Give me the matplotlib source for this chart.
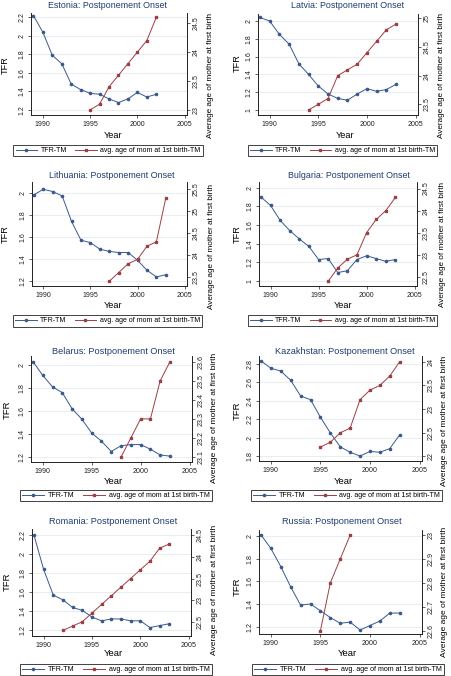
import matplotlib
matplotlib.use("Agg")
import matplotlib.pyplot as plt
from matplotlib.lines import Line2D
from matplotlib.ticker import FuncFormatter

plt.rcParams['font.family'] = ['Liberation Sans', 'DejaVu Sans']

# ---------------- data ----------------
countries = ["Estonia", "Latvia", "Lithuania", "Bulgaria",
             "Belarus", "Kazakhstan", "Romania", "Russia"]

est_tfr_years = [1989, 1990, 1991, 1992, 1993, 1994, 1995, 1996, 1997, 1998, 1999, 2000, 2001, 2002]
est_tfr = [2.22, 2.04, 1.79, 1.70, 1.48, 1.42, 1.38, 1.37, 1.32, 1.28, 1.32, 1.39, 1.34, 1.37]
est_age_years = [1995, 1996, 1997, 1998, 1999, 2000, 2001, 2002]
est_age = [23.0, 23.1, 23.4, 23.6, 23.8, 24.0, 24.2, 24.6]

lva_tfr_years = [1989, 1990, 1991, 1992, 1993, 1994, 1995, 1996, 1997, 1998, 1999, 2000, 2001, 2002, 2003]
lva_tfr = [2.04, 2.00, 1.85, 1.74, 1.52, 1.40, 1.27, 1.18, 1.13, 1.11, 1.18, 1.24, 1.21, 1.23, 1.29]
lva_age_years = [1994, 1995, 1996, 1997, 1998, 1999, 2000, 2001, 2002, 2003]
lva_age = [23.4, 23.5, 23.6, 24.0, 24.1, 24.2, 24.4, 24.6, 24.8, 24.9]

ltu_tfr_years = [1989, 1990, 1991, 1992, 1993, 1994, 1995, 1996, 1997, 1998, 1999, 2000, 2001, 2002, 2003]
ltu_tfr = [1.98, 2.03, 2.01, 1.97, 1.74, 1.57, 1.55, 1.49, 1.47, 1.46, 1.46, 1.39, 1.30, 1.24, 1.26]
ltu_age_years = [1997, 1998, 1999, 2000, 2001, 2002, 2003]
ltu_age = [23.4, 23.6, 23.8, 23.9, 24.2, 24.3, 25.3]

bgr_tfr_years = [1989, 1990, 1991, 1992, 1993, 1994, 1995, 1996, 1997, 1998, 1999, 2000, 2001, 2002, 2003]
bgr_tfr = [1.90, 1.81, 1.65, 1.54, 1.45, 1.37, 1.23, 1.24, 1.09, 1.11, 1.23, 1.27, 1.24, 1.21, 1.23]
bgr_age_years = [1996, 1997, 1998, 1999, 2000, 2001, 2002, 2003]
bgr_age = [22.4, 22.7, 22.9, 23.0, 23.5, 23.8, 24.0, 24.3]

blr_tfr_years = [1989, 1990, 1991, 1992, 1993, 1994, 1995, 1996, 1997, 1998, 1999, 2000, 2001, 2002, 2003]
blr_tfr = [2.03, 1.91, 1.81, 1.76, 1.62, 1.53, 1.41, 1.34, 1.25, 1.30, 1.31, 1.31, 1.27, 1.22, 1.21]
blr_age_years = [1998, 1999, 2000, 2001, 2002, 2003]
blr_age = [23.1, 23.2, 23.3, 23.3, 23.5, 23.6]

kaz_tfr_years = [1989, 1990, 1991, 1992, 1993, 1994, 1995, 1996, 1997, 1998, 1999, 2000, 2001, 2002, 2003]
kaz_tfr = [2.83, 2.75, 2.72, 2.62, 2.45, 2.41, 2.22, 2.05, 1.90, 1.84, 1.80, 1.85, 1.84, 1.88, 2.03]
kaz_age_years = [1995, 1996, 1997, 1998, 1999, 2000, 2001, 2002, 2003]
kaz_age = [22.2, 22.3, 22.5, 22.6, 23.2, 23.4, 23.5, 23.7, 24.0]

rou_tfr_years = [1989, 1990, 1991, 1992, 1993, 1994, 1995, 1996, 1997, 1998, 1999, 2000, 2001, 2002, 2003]
rou_tfr = [2.20, 1.84, 1.57, 1.52, 1.44, 1.41, 1.34, 1.30, 1.32, 1.32, 1.30, 1.30, 1.23, 1.25, 1.27]
rou_age_years = [1992, 1993, 1994, 1995, 1996, 1997, 1998, 1999, 2000, 2001, 2002, 2003]
rou_age = [22.3, 22.4, 22.5, 22.7, 22.9, 23.1, 23.3, 23.5, 23.7, 23.9, 24.2, 24.3]

rus_tfr_years = [1989, 1990, 1991, 1992, 1993, 1994, 1995, 1996, 1997, 1998, 1999, 2000, 2001, 2002, 2003]
rus_tfr = [2.01, 1.89, 1.73, 1.55, 1.39, 1.40, 1.34, 1.28, 1.23, 1.24, 1.17, 1.21, 1.25, 1.32, 1.32]
rus_age_years = [1995, 1996, 1997, 1998]
rus_age = [22.6, 22.8, 22.9, 23.0]

x_ticks = [1990, 1995, 2000, 2005]
tfr_ticks = [
    [1.2, 1.4, 1.6, 1.8, 2.0, 2.2],
    [1.0, 1.2, 1.4, 1.6, 1.8, 2.0],
    [1.2, 1.4, 1.6, 1.8, 2.0],
    [1.0, 1.2, 1.4, 1.6, 1.8, 2.0],
    [1.2, 1.4, 1.6, 1.8, 2.0],
    [1.8, 2.0, 2.2, 2.4, 2.6, 2.8],
    [1.2, 1.4, 1.6, 1.8, 2.0, 2.2],
    [1.2, 1.4, 1.6, 1.8, 2.0],
]
age_ticks = [
    [23, 23.5, 24, 24.5],
    [23.5, 24, 24.5, 25],
    [23.5, 24, 24.5, 25, 25.5],
    [22.5, 23, 23.5, 24, 24.5],
    [23.1, 23.2, 23.3, 23.4, 23.5, 23.6],
    [22, 22.5, 23, 23.5, 24],
    [22.5, 23, 23.5, 24, 24.5],
    [22.6, 22.7, 22.8, 22.9, 23.0],
]
series = [
    (est_tfr_years, est_tfr, est_age_years, est_age),
    (lva_tfr_years, lva_tfr, lva_age_years, lva_age),
    (ltu_tfr_years, ltu_tfr, ltu_age_years, ltu_age),
    (bgr_tfr_years, bgr_tfr, bgr_age_years, bgr_age),
    (blr_tfr_years, blr_tfr, blr_age_years, blr_age),
    (kaz_tfr_years, kaz_tfr, kaz_age_years, kaz_age),
    (rou_tfr_years, rou_tfr, rou_age_years, rou_age),
    (rus_tfr_years, rus_tfr, rus_age_years, rus_age),
]

# ---------------- layout (pixels) ----------------
W, H = 451, 676
# axes box: left, right, top, bottom
boxes = [
    (31.5, 187, 13, 115), (258, 418, 14, 115),
    (32, 187, 182, 286), (259, 417, 182, 286),
    (31, 192, 356, 462), (259, 422, 356, 461),
    (32, 191, 529, 636), (259, 422, 530, 634),
]
ylims_l = [(1.146, 2.247), (0.944, 2.079), (1.158, 2.096), (0.946, 2.061),
           (1.159, 2.078), (1.746, 2.883), (1.141, 2.263), (1.135, 2.053)]
ylims_r = [(22.913, 24.676), (23.313, 25.074), (23.293, 25.664), (22.293, 24.649),
           (23.074, 23.63), (21.905, 24.12), (22.17, 24.646), (22.586, 23.021)]
xlim = (1988.8, 2005.25)
titles_xy = [(107, 6), (348, 6), (112, 176), (349, 176),
             (113, 351), (345, 351), (113, 522), (342, 522)]
tfr_lab = [(5, 65), (237, 63), (5, 234), (237, 234),
           (7, 410), (237, 411), (7, 582), (237, 587)]
year_lab = [(113, 135), (345, 135), (113, 305), (343, 305),
            (113, 481), (343, 481), (113, 654), (347, 654)]
age_lab = [(210, 76), (442, 75), (211, 246), (442, 244),
           (215, 418), (445, 421), (215, 590), (445, 592)]
leg_xy = [(108, 150.5), (342.5, 150.5), (107.5, 321), (342.5, 320.5),
          (116, 495.5), (346.5, 495.5), (116, 669.5), (348, 669.5)]
scales = [1.0, 1.0, 1.0, 1.0, 1.03, 1.03, 1.03, 1.03]

C_TFR = "#3a5a8c"
C_AGE = "#9b3f45"
C_TITLE = "#1e3c6e"
C_GRID = "#e4eaee"

fmt = FuncFormatter(lambda v, p: ("%g" % round(v, 2)))

fig = plt.figure(figsize=(W / 100, H / 100), dpi=100)
fig.patch.set_facecolor("white")

for i, name in enumerate(countries):
    l, r, t, b = boxes[i]
    s = scales[i]
    ax = fig.add_axes([l / W, 1 - b / H, (r - l) / W, (b - t) / H])
    ax2 = ax.twinx()
    ty, tv, ay, av = series[i]
    ax.plot(ty, tv, color=C_TFR, lw=0.7, marker='o', ms=1.6, zorder=3)
    ax2.plot(ay, av, color=C_AGE, lw=0.7, marker='s', ms=2.0, zorder=3)
    ax.set_xlim(*xlim)
    ax.set_ylim(*ylims_l[i])
    ax2.set_ylim(*ylims_r[i])
    ax.set_xticks(x_ticks)
    ax.set_yticks(tfr_ticks[i])
    ax2.set_yticks(age_ticks[i])
    ax.yaxis.set_major_formatter(fmt)
    ax2.yaxis.set_major_formatter(fmt)
    ax.grid(axis='y', color=C_GRID, lw=0.6, zorder=0)
    for a in (ax, ax2):
        a.spines['top'].set_visible(False)
        for sp in ('left', 'right', 'bottom'):
            a.spines[sp].set_linewidth(0.6)
            a.spines[sp].set_color('#222222')
        a.tick_params(width=0.5, length=2.5, pad=1.5, labelsize=5.0 * s,
                      colors='#222222')
    for lab in ax.get_yticklabels():
        lab.set_rotation(90)
        lab.set_va('center')
    for lab in ax2.get_yticklabels():
        lab.set_rotation(90)
        lab.set_va('center')
    # texts
    tx, tyy = titles_xy[i]
    fig.text(tx / W, 1 - tyy / H, name + ": Postponement Onset", ha='center',
             va='center', fontsize=6.4 * s, color=C_TITLE)
    ax.set_ylabel("TFR", fontsize=6.6 * s)
    ax.yaxis.set_label_coords((tfr_lab[i][0] - l) / (r - l),
                              (b - tfr_lab[i][1]) / (b - t))
    ax.set_xlabel("Year", fontsize=6.6 * s)
    ax.xaxis.set_label_coords((year_lab[i][0] - l) / (r - l),
                              (b - year_lab[i][1]) / (b - t))
    ax.xaxis.label.set_va('center')
    ax2.set_ylabel("Average age of mother at first birth", fontsize=5.9 * s,
                   rotation=90)
    ax2.yaxis.set_label_coords((age_lab[i][0] - l) / (r - l),
                               (b - age_lab[i][1]) / (b - t))
    ax2.yaxis.label.set_va('center')
    ax.yaxis.label.set_va('center')
    handles = [Line2D([], [], color=C_TFR, lw=0.7, marker='o', ms=1.6),
               Line2D([], [], color=C_AGE, lw=0.7, marker='s', ms=2.0)]
    lx, ly = leg_xy[i]
    leg = fig.legend(handles, ["TFR-TM", "avg. age of mom at 1st birth-TM"],
                     loc='center', bbox_to_anchor=(lx / W, 1 - ly / H),
                     ncol=2, fontsize=5.0 * s, frameon=True, fancybox=False,
                     edgecolor='#222222', framealpha=1, borderpad=0.3,
                     handlelength=3.1, handletextpad=0.5, columnspacing=1.2,
                     borderaxespad=0)
    leg.get_frame().set_linewidth(0.6)

fig.savefig("out.png", dpi=100, facecolor="white")
